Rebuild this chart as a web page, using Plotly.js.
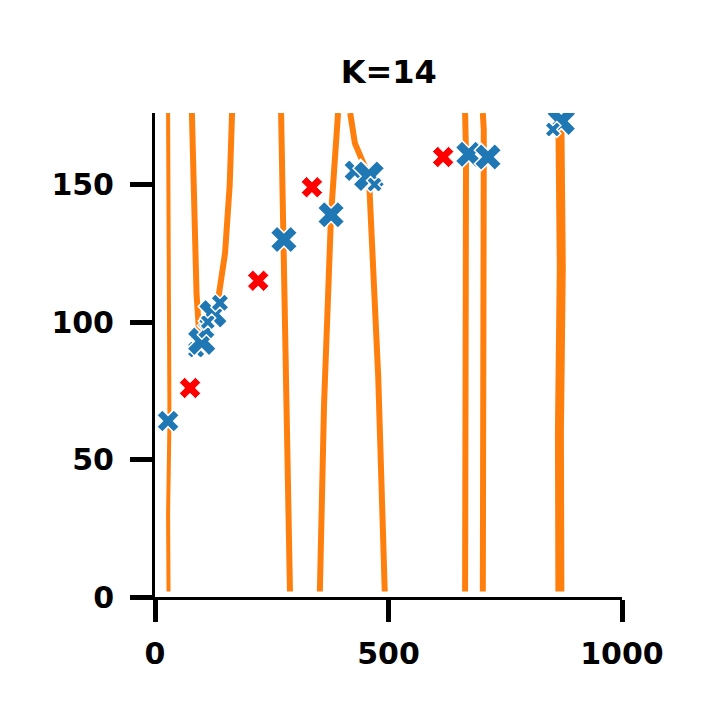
<!DOCTYPE html>
<html>
<head>
<meta charset="utf-8">
<script src="https://cdn.plot.ly/plotly-3.0.1.min.js"></script>
<style>html,body{margin:0;padding:0;background:#fff}#plot{width:720px;height:720px}</style>
</head>
<body>
<div id="plot"></div>
<script>
// Orange trajectories (x, y) in data units
const lineXs = [
  [28, 30, 31, 28, 29],
  [79, 84, 89, 96],
  [165, 160, 150, 135],
  [270, 273, 276, 283, 289],
  [392, 382, 377, 362, 353],
  [418, 428, 458, 478, 492],
  [664, 666, 666, 665, 664],
  [702, 704, 704, 703, 702],
  [867, 870, 866, 867]
];
const lineYs = [
  [176, 120, 64, 30, 2],
  [176, 140, 110, 92],
  [176, 150, 125, 108],
  [176, 150, 130, 60, 2],
  [176, 155, 139, 70, 2],
  [176, 165, 153, 80, 2],
  [176, 170, 161, 80, 2],
  [176, 170, 160, 80, 2],
  [173, 120, 60, 2]
];
const lineWidths = [4, 6, 6, 6, 6, 6, 6, 6, 9];

// Blue X markers
const blueX = [28, 88, 100, 110, 124, 139, 113, 276, 377, 428, 458, 470, 672, 713, 870, 852];
const blueY = [64, 90, 93, 97, 103, 107, 100, 130, 139, 155, 153, 150, 161, 160, 173, 170];
const blueSize = [20, 16, 26, 16, 26, 16, 14, 24, 24, 20, 28, 14, 24, 24, 26, 14];

// Red x markers
const redX = [75, 221, 336, 617];
const redY = [76, 115, 149, 160];

const traces = [];
for (let i = 0; i < lineXs.length; i++) {
  traces.push({
    x: lineXs[i], y: lineYs[i], mode: 'lines', type: 'scatter',
    line: {color: '#ff7f0e', width: lineWidths[i]},
    hoverinfo: 'skip', showlegend: false
  });
}
traces.push({
  x: blueX, y: blueY, mode: 'markers', type: 'scatter', showlegend: false,
  marker: {symbol: 'x', size: blueSize, color: '#1f77b4', opacity: 1, line: {color: 'white', width: 1.5}}
});
traces.push({
  x: redX, y: redY, mode: 'markers', type: 'scatter', showlegend: false,
  marker: {symbol: 'x', size: 19, color: '#ff0000', opacity: 1, line: {color: 'white', width: 1}}
});

const fontFam = 'DejaVu Sans, sans-serif';
const layout = {
  width: 720, height: 720,
  paper_bgcolor: 'white', plot_bgcolor: 'white',
  margin: {l: 155, r: 98, t: 113, b: 123},
  title: {text: 'K=14', x: 0.54, xanchor: 'center', y: 0.9, yanchor: 'middle',
          font: {family: fontFam, size: 32, color: 'black', weight: 'bold'}},
  xaxis: {
    range: [0, 1000], tickvals: [0, 500, 1000], ticktext: ['0', '500', '1000'],
    showgrid: false, zeroline: false, showline: true, linecolor: 'black', linewidth: 3,
    ticks: 'outside', ticklen: 22, tickwidth: 5, tickcolor: 'black',
    ticklabelstandoff: 6,
    tickfont: {family: fontFam, size: 30, color: 'black', weight: 'bold'}
  },
  yaxis: {
    range: [0, 176], tickvals: [0, 50, 100, 150], ticktext: ['0', '50', '100', '150'],
    showgrid: false, zeroline: false, showline: true, linecolor: 'black', linewidth: 3,
    ticks: 'outside', ticklen: 22, tickwidth: 5, tickcolor: 'black',
    ticklabelstandoff: 10,
    tickfont: {family: fontFam, size: 30, color: 'black', weight: 'bold'}
  }
};
Plotly.newPlot('plot', traces, layout, {displayModeBar: false, staticPlot: true});
</script>
</body>
</html>
